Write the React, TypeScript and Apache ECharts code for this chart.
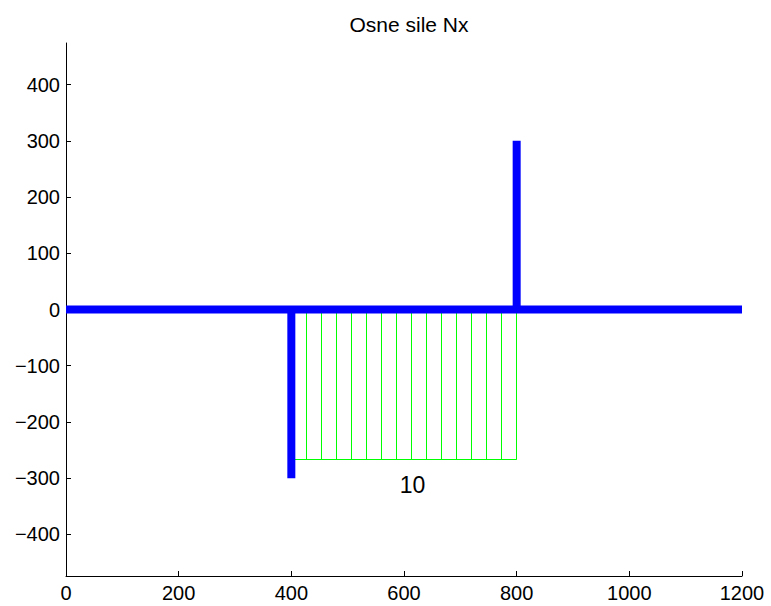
import React, { useEffect, useRef } from "react";
import * as echarts from "echarts";

const titleText = "Osne sile Nx";
const xTicks = [0, 200, 400, 600, 800, 1000, 1200];
const yTicks = [-400, -300, -200, -100, 0, 100, 200, 300, 400];

// Axial force diagram (blue) segments: [x1, y1, x2, y2]
const axisLine = [0, 0, 1200, 0];
const jumpLeft = [400, 0, 400, -300];
const jumpRight = [800, 0, 800, 300];

// Distributed load (green) hatch positions and depth
const loadX = [400, 426.7, 453.3, 480, 506.7, 533.3, 560, 586.7, 613.3, 640, 666.7, 693.3, 720, 746.7, 773.3, 800];
const loadDepth = -267;
const loadLabel = "10";
const loadLabelPos = [615, -312];

const FONT = "Liberation Sans, Arial, Helvetica, sans-serif";

export default function App() {
  const ref = useRef<HTMLDivElement>(null);
  useEffect(() => {
    if (!ref.current) return;
    const chart = echarts.init(ref.current, null, { renderer: "svg" });
    const seg = (s: number[]) => [[s[0], s[1]], [s[2], s[3]]];
    const hatch = loadX.map((x) => ({ coords: [[x, 0], [x, loadDepth]] }));
    hatch.push({ coords: [[loadX[0], loadDepth], [loadX[loadX.length - 1], loadDepth]] });
    const blueLine = (data: number[][]) => ({
      type: "line",
      data,
      symbol: "none",
      lineStyle: { color: "#0000ff", width: 8, cap: "butt" },
      silent: true,
      z: 5,
    });
    const fmt = (v: number) => (v < 0 ? "\u2212" + Math.abs(v) : String(v));
    chart.setOption({
      animation: false,
      backgroundColor: "#ffffff",
      title: {
        text: titleText,
        left: 404,
        top: 9,
        textAlign: "center",
        textStyle: { fontFamily: FONT, fontSize: 21, fontWeight: "normal", color: "#000" },
      },
      grid: { left: 66, right: 29, top: 43, bottom: 30, containLabel: false },
      xAxis: {
        type: "value",
        min: 0,
        max: 1200,
        interval: 200,
        axisLine: { show: true, onZero: false, lineStyle: { color: "#000", width: 1 } },
        axisTick: { show: true, inside: true, length: 5, lineStyle: { color: "#000" } },
        axisLabel: { color: "#000", fontFamily: FONT, fontSize: 20, margin: 7, formatter: fmt },
        splitLine: { show: false },
      },
      yAxis: {
        type: "value",
        min: -474,
        max: 474,
        axisLine: { show: true, onZero: false, lineStyle: { color: "#000", width: 1 } },
        axisTick: { show: true, inside: true, length: 5, lineStyle: { color: "#000" }, customValues: yTicks },
        axisLabel: {
          color: "#000",
          fontFamily: FONT,
          fontSize: 20,
          margin: 6,
          customValues: yTicks,
          formatter: fmt,
        },
        splitLine: { show: false },
      },
      series: [
        {
          type: "lines",
          coordinateSystem: "cartesian2d",
          polyline: false,
          data: hatch,
          lineStyle: { color: "#00ff00", width: 1, opacity: 1 },
          silent: true,
          z: 2,
        },
        blueLine(seg(axisLine)),
        blueLine(seg(jumpLeft)),
        blueLine(seg(jumpRight)),
        {
          type: "scatter",
          data: [loadLabelPos],
          symbolSize: 0,
          silent: true,
          itemStyle: { opacity: 1 },
          label: {
            show: true,
            position: "inside",
            formatter: loadLabel,
            color: "#000",
            opacity: 1,
            fontFamily: FONT,
            fontSize: 23,
          },
          z: 6,
        },
      ],
    });
    return () => chart.dispose();
  }, []);
  return (
    <div
      ref={ref}
      style={{ position: "fixed", left: 0, top: 0, width: 771, height: 606, background: "#fff" }}
    />
  );
}
